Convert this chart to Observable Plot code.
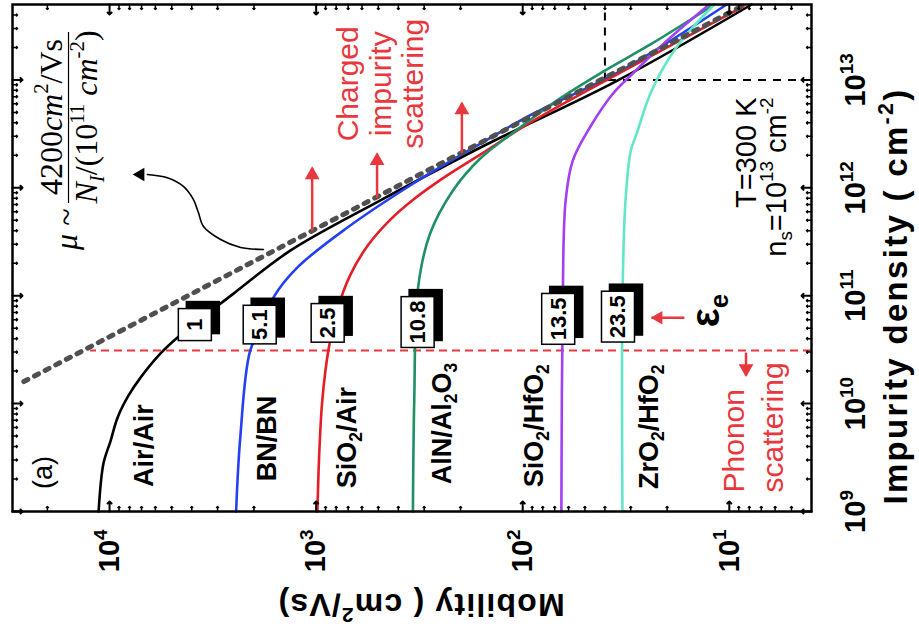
<!DOCTYPE html>
<html>
<head>
<meta charset="utf-8">
<script src="https://cdn.jsdelivr.net/npm/d3@7"></script>
<script src="https://cdn.jsdelivr.net/npm/@observablehq/plot@0.6"></script>
<style>
  html, body { margin: 0; padding: 0; overflow: hidden; background: #fff; width: 919px; height: 627px; }
  /* The figure is laid out in portrait and turned a quarter turn counter-clockwise */
  #chart { position: absolute; left: 0; top: 0; width: 627px; height: 919px;
           transform-origin: 0 0; transform: translate(0, 627px) rotate(-90deg); }
  #chart svg { overflow: visible; }
  g[aria-label$="tick label"] { font-weight: bold; }
</style>
</head>
<body>
<div id="chart"></div>
<script>
// ---- Axis ticks ----------------------------------------------------------
const xMajorTicks = [1e9, 1e10, 1e11, 1e12, 1e13];      // impurity density, cm^-2
const yMajorTicks = [1e1, 1e2, 1e3, 1e4];                // mobility, cm^2/Vs
const xDomain = [1e9, 5e13];
const yDomain = [4, 29500];

// ---- Mobility vs. impurity density for each dielectric environment ----------
const airAirN   = [1e9, 2.8e9, 4.5e9, 7.4e9, 1.19e10, 1.74e10, 2.9e10, 4.1e10, 1.04e11, 2.6e11, 7.6e11, 2.35e12, 9.8e12, 5e13];
const airAirMu  = [11300, 10700, 9890, 9150, 8090, 7080, 5680, 4690, 2520, 1340, 491, 161, 35, 7.8];
const bnBnN     = [1e9, 4.8e9, 3.1e10, 5.5e10, 9.6e10, 1.82e11, 4.26e11, 1.09e12, 2.55e12, 4.84e12, 1.16e13, 5e13];
const bnBnMu    = [2440, 2330, 2085, 1800, 1610, 1235, 708, 340, 161, 89.5, 35, 10.3];
const sio2AirN  = [1e9, 3.76e9, 1.09e10, 3.17e10, 7.45e10, 1.57e11, 2.98e11, 5.08e11, 7.8e11, 1.27e12, 2.04e12, 4.03e12, 1.08e13, 4.79e13];
const sio2AirMu = [986, 964, 933, 871, 789, 682, 558, 437, 338, 237, 160, 91.8, 36.4, 8.55];
const alnN      = [1e9, 1.07e10, 1.19e11, 3.75e11, 9.4e11, 1.86e12, 3.62e12, 6.3e12, 1.2e13, 2.13e13, 5e13];
const alnMu     = [340, 335, 321, 281, 218, 161, 103, 69.5, 40.6, 24.1, 11.8];
const sio2HfN   = [1e9, 9e10, 7.6e11, 1.78e12, 3.6e12, 7.4e12, 1.14e13, 2.3e13, 5e13];
const sio2HfMu  = [65, 64, 62, 57.3, 47.4, 36.7, 29.4, 20.1, 12.5];
const zro2HfN   = [1e9, 9e10, 7.6e11, 2.2e12, 3.16e12, 7.9e12, 2.07e13, 5e13];
const zro2HfMu  = [32.9, 32.9, 31.8, 30, 28.1, 23.8, 17.8, 11.8];

const seriesNames  = ["Air/Air", "BN/BN", "SiO_2/Air", "AlN/Al_2O_3", "SiO_2/HfO_2", "ZrO_2/HfO_2"];
const seriesColors = ["#000000", "#2340f5", "#e41e26", "#1f8f66", "#a23ff2", "#62e6c8"];
const seriesN  = [airAirN, bnBnN, sio2AirN, alnN, sio2HfN, zro2HfN];
const seriesMu = [airAirMu, bnBnMu, sio2AirMu, alnMu, sio2HfMu, zro2HfMu];

// Curve label anchors
const labelN  = [4.08e9, 4.74e9, 4.84e9, 6.53e9, 6.25e9, 6.1e9];
const labelMu = [6780, 1725, 708, 246, 87.5, 24.3];

// Effective dielectric constant boxes
const epsText = ["1", "5.1", "2.5", "10.8", "13.5", "23.5"];
const epsN    = [5.4e10, 5.4e10, 5.6e10, 5.7e10, 6.1e10, 6.4e10];
const epsMu   = [3845, 1866, 875, 321, 67, 34.4];

// Charged-impurity limit  mu ~ 4200 cm^2/Vs / (N_I / 1e11)
const limitN  = [1.6e10, 5e13];
const limitMu = [26000, 8.4];

// Reference lines
const phononN = 3.1e10, phononMu = [4, 12350];
const nsN = 1e13, nsMu = 40;

// Red arrows toward the charged-impurity regime
const chargeArrowMu = [1045, 507, 197];
const chargeArrowN1 = [4.0e11, 8.07e11, 2.1e12];
const chargeArrowN2 = [1.53e12, 2.07e12, 6.1e12];

// Curved pointer from the formula to the dotted limit
const pointerN  = [2.68e11, 2.80e11, 3.32e11, 4.38e11, 5.9e11, 7.8e11, 1.03e12, 1.24e12, 1.33e12];
const pointerMu = [1800, 2320, 2900, 3510, 3715, 3930, 4390, 5250, 6560];
const pointerTip = {N: 1.33e12, mu: 7660};

// ---- Build tables ----------------------------------------------------------
const curves = seriesNames.flatMap((name, i) =>
  seriesN[i].map((n, j) => ({name, n, mu: seriesMu[i][j]})));
const curveLabels = seriesNames.map((name, i) => ({name, n: labelN[i], mu: labelMu[i]}));
const epsBoxes = epsText.map((t, i) => ({t, n: epsN[i], mu: epsMu[i]}));
const limit = limitN.map((n, i) => ({n, mu: limitMu[i]}));
const chargeArrows = chargeArrowMu.map((mu, i) => ({mu, n1: chargeArrowN1[i], n2: chargeArrowN2[i]}));
const pointer = pointerN.map((n, i) => ({n, mu: pointerMu[i]}));

const xMinorTicks = [];
for (let e = 9; e <= 13; e++) for (let m = 2; m <= 9; m++) {
  const v = m * 10 ** e; if (v < xDomain[1]) xMinorTicks.push(v);
}
const yMinorTicks = [];
for (let e = 0; e <= 4; e++) for (let m = 2; m <= 9; m++) {
  const v = m * 10 ** e; if (v > yDomain[0] && v < yDomain[1]) yMinorTicks.push(v);
}
const pow10 = d => `10^{${Math.round(Math.log10(d))}}`;

const red = "#e8383d";
const serif = "'Liberation Serif', 'Times New Roman', serif";
const bar = {n1: 7.31e11, n2: 2.81e13, mid: 4.53e12, mu: 15800};

const chart = Plot.plot({
  width: 627, height: 919,
  marginLeft: 115, marginRight: 5, marginTop: 12, marginBottom: 108,
  x: {type: "log", domain: xDomain},
  y: {type: "log", domain: yDomain},
  style: {fontFamily: "'Liberation Sans', Arial, Helvetica, sans-serif", background: "white", color: "black"},
  marks: [
    // reference lines
    Plot.ruleX([phononN], {y1: phononMu[0], y2: phononMu[1], stroke: red, strokeWidth: 2, strokeDasharray: "8,5"}),
    Plot.ruleY([nsMu], {x1: nsN, x2: xDomain[1], stroke: "black", strokeWidth: 2, strokeDasharray: "8,7"}),
    Plot.ruleX([nsN], {y1: yDomain[0], y2: nsMu, stroke: "black", strokeWidth: 2, strokeDasharray: "8,7"}),

    // mobility curves
    Plot.line(curves, {x: "n", y: "mu", z: "name", stroke: "name", strokeWidth: 2.6, curve: "catmull-rom"}),

    // 1/N limit
    Plot.line(limit, {x: "n", y: "mu", stroke: "#505050", strokeWidth: 5, strokeDasharray: "4.5,7.5"}),

    // curve labels
    Plot.text(curveLabels, {x: "n", y: "mu", text: "name", fontSize: 27, fontWeight: "bold", textAnchor: "middle"}),

    // arrows toward charged-impurity scattering
    Plot.link(chargeArrows, {x1: "n1", x2: "n2", y1: "mu", y2: "mu", stroke: red, strokeWidth: 2.5}),
    Plot.dot(chargeArrows, {x: "n2", y: "mu", symbol: "triangle", r: 5.5, rotate: 90, fill: red, stroke: "none", dx: -7}),
    Plot.text(["Charged\nimpurity\nscattering"], {x: 9.2e12, y: 491, text: d => d, fill: red, fontSize: 30, lineHeight: 1.1, textAnchor: "middle"}),

    // phonon scattering
    Plot.link([{n1: 2.97e10, n2: 1.82e10, mu: 8.3}], {x1: "n1", x2: "n2", y1: "mu", y2: "mu", stroke: red, strokeWidth: 2.5}),
    Plot.dot([{n: 1.82e10, mu: 8.3}], {x: "n", y: "mu", symbol: "triangle", r: 5.5, rotate: -90, fill: red, stroke: "none", dx: 7}),
    Plot.text(["Phonon\nscattering"], {x: 1.5e9, y: 7.83, text: d => d, fill: red, fontSize: 30, lineHeight: 1.3, textAnchor: "start"}),

    // effective dielectric constant pointer
    Plot.link([{n: 6.25e10, mu1: 16.5, mu2: 23.8}], {x1: "n", x2: "n", y1: "mu1", y2: "mu2", stroke: red, strokeWidth: 2.5}),
    Plot.dot([{n: 6.25e10, mu: 23.8}], {x: "n", y: "mu", symbol: "triangle", r: 5, fill: red, stroke: "none", dy: 7}),
    Plot.text(["ε_e"], {x: 5.1e10, y: 11.2, text: d => d, fontSize: 40, fontWeight: "bold", textAnchor: "start", lineAnchor: "bottom"}),

    // conditions
    Plot.text(["T=300 K"], {x: 6.87e12, y: 8.26, text: d => d, fontSize: 29, textAnchor: "end"}),
    Plot.text(["n_s=10^{13} cm^{-2}"], {x: 6.87e12, y: 5.92, text: d => d, fontSize: 29, textAnchor: "end"}),
    Plot.text(["(a)"], {x: 2.3e9, y: 20900, text: d => d, fontSize: 27}),

    // formula for the charged-impurity limit
    Plot.ruleY([bar.mu], {x1: bar.n1, x2: bar.n2, stroke: "black", strokeWidth: 1.2}),
    Plot.text(["4200*cm*^{2}/Vs"], {x: bar.mid, y: bar.mu, text: d => d, fontFamily: serif, fontSize: 32, lineAnchor: "bottom", dy: -7}),
    Plot.text(["*N*_{*I*}/(10^{11} *cm*^{-2})"], {x: bar.mid, y: bar.mu, text: d => d, fontFamily: serif, fontSize: 32, lineAnchor: "top", dy: 6}),
    Plot.text(["*μ* ~"], {x: 6.43e11, y: bar.mu, text: d => d, fontFamily: serif, fontSize: 32, textAnchor: "end", dy: -2}),
    Plot.line(pointer, {x: "n", y: "mu", stroke: "black", strokeWidth: 1.6, curve: "catmull-rom"}),
    Plot.dot([pointerTip], {x: "N", y: "mu", symbol: "triangle", r: 5, fill: "black", stroke: "none", dy: 7}),

    // dielectric constant boxes (frames added after rendering)
    Plot.text(epsBoxes, {x: "n", y: "mu", text: "t", fontSize: 22, fontWeight: "bold", ariaLabel: () => "eps-box"}),

    // ticks on all four sides, pointing inward
    Plot.vector(xMajorTicks, {x: d => d, frameAnchor: "bottom", rotate: 0, length: 10, anchor: "start", stroke: "black", strokeWidth: 2}),
    Plot.vector(xMinorTicks, {x: d => d, frameAnchor: "bottom", rotate: 0, length: 5, anchor: "start", stroke: "black", strokeWidth: 1.5}),
    Plot.vector(xMajorTicks, {x: d => d, frameAnchor: "top", rotate: 180, length: 10, anchor: "start", stroke: "black", strokeWidth: 2}),
    Plot.vector(xMinorTicks, {x: d => d, frameAnchor: "top", rotate: 180, length: 5, anchor: "start", stroke: "black", strokeWidth: 1.5}),
    Plot.vector(yMajorTicks, {y: d => d, frameAnchor: "left", rotate: 90, length: 10, anchor: "start", stroke: "black", strokeWidth: 2}),
    Plot.vector(yMinorTicks, {y: d => d, frameAnchor: "left", rotate: 90, length: 5, anchor: "start", stroke: "black", strokeWidth: 1.5}),
    Plot.vector(yMajorTicks, {y: d => d, frameAnchor: "right", rotate: -90, length: 10, anchor: "start", stroke: "black", strokeWidth: 2}),
    Plot.vector(yMinorTicks, {y: d => d, frameAnchor: "right", rotate: -90, length: 5, anchor: "start", stroke: "black", strokeWidth: 1.5}),

    // tick labels and axis titles
    Plot.axisX(xMajorTicks, {anchor: "bottom", tickSize: 0, tickPadding: 33, tickFormat: pow10, fontSize: 29, fontWeight: "bold", label: null}),
    Plot.axisY(yMajorTicks, {anchor: "left", tickSize: 0, tickPadding: 18, tickFormat: pow10, fontSize: 29, fontWeight: "bold", label: null}),
    Plot.text(["Impurity density ( cm^{-2})"], {frameAnchor: "bottom", text: d => d, textAnchor: "middle", lineAnchor: "bottom", dy: 95, dx: -38, fontSize: 33, fontWeight: "bold"}),
    Plot.text(["Mobility ( cm^{2}/Vs)"], {frameAnchor: "left", text: d => d, rotate: -90, textAnchor: "middle", lineAnchor: "middle", dx: -93, dy: 9, fontSize: 32, fontWeight: "bold"}),

    Plot.frame({stroke: "black", strokeWidth: 2.5})
  ],
  color: {domain: seriesNames, range: seriesColors}
});

document.getElementById("chart").appendChild(chart);
const svg = chart.tagName.toLowerCase() === "svg" ? chart : chart.querySelector("svg");
const NS = "http://www.w3.org/2000/svg";

// Axis titles are set with a little extra tracking
svg.querySelectorAll("text").forEach(t => {
  const s = t.textContent;
  if (s.startsWith("Impurity density")) t.setAttribute("letter-spacing", "2.3");
  if (s.startsWith("Mobility")) t.setAttribute("letter-spacing", "1.2");
});

// Light markup for labels: ^{..} superscript, _{..} subscript, *..* italic
function parseRich(s) {
  const segs = []; let buf = "", italic = false;
  const push = () => { if (buf) segs.push({t: buf, mode: 0, italic}); buf = ""; };
  for (let i = 0; i < s.length; i++) {
    const c = s[i];
    if (c === "*") { push(); italic = !italic; }
    else if (c === "^" || c === "_") {
      push();
      const mode = c === "^" ? 1 : -1;
      let content;
      if (s[i + 1] === "{") { const k = s.indexOf("}", i + 1); content = s.slice(i + 2, k); i = k; }
      else { content = s[i + 1]; i += 1; }
      let it = italic, b = "";
      for (const ch of content) {
        if (ch === "*") { if (b) segs.push({t: b, mode, italic: it}); b = ""; it = !it; }
        else b += ch;
      }
      if (b) segs.push({t: b, mode, italic: it});
    } else buf += c;
  }
  push();
  return segs;
}
svg.querySelectorAll("text").forEach(t => {
  if (t.children.length) return;
  const s = t.textContent;
  if (!/[\^_*]/.test(s)) return;
  const fs = parseFloat(getComputedStyle(t).fontSize) || 16;
  const segs = parseRich(s);
  t.textContent = "";
  let cur = 0;
  for (const sg of segs) {
    const ts = document.createElementNS(NS, "tspan");
    const off = sg.mode === 1 ? -0.42 * fs : sg.mode === -1 ? 0.22 * fs : 0;
    if (off !== cur) ts.setAttribute("dy", (off - cur).toFixed(2));
    cur = off;
    if (sg.mode) ts.setAttribute("font-size", (0.65 * fs).toFixed(2));
    if (sg.italic) ts.setAttribute("font-style", "italic");
    ts.textContent = sg.t;
    t.appendChild(ts);
  }
});

// White boxes with a black drop shadow behind the dielectric constants
let boxTexts = Array.from(svg.querySelectorAll('text[aria-label="eps-box"]'));
if (!boxTexts.length) boxTexts = Array.from(svg.querySelectorAll("text")).filter(t => epsText.includes(t.textContent));
boxTexts.forEach(t => {
  const bb = t.getBBox();
  const padX = 4, padY = 4, minW = 32;
  const w = Math.max(bb.width + 2 * padX, minW);
  const h = bb.height + 2 * padY;
  const x = bb.x + bb.width / 2 - w / 2, y = bb.y - padY;
  const tr = t.getAttribute("transform");
  const mk = (dx, dy, fill, stroke) => {
    const r = document.createElementNS(NS, "rect");
    r.setAttribute("x", x + dx); r.setAttribute("y", y + dy);
    r.setAttribute("width", w); r.setAttribute("height", h);
    r.setAttribute("fill", fill); r.setAttribute("stroke", stroke);
    r.setAttribute("stroke-width", 1.5);
    if (tr) r.setAttribute("transform", tr);
    t.parentNode.insertBefore(r, t);
  };
  mk(7, 8, "black", "black");
  mk(0, 0, "white", "black");
});
</script>
</body>
</html>
